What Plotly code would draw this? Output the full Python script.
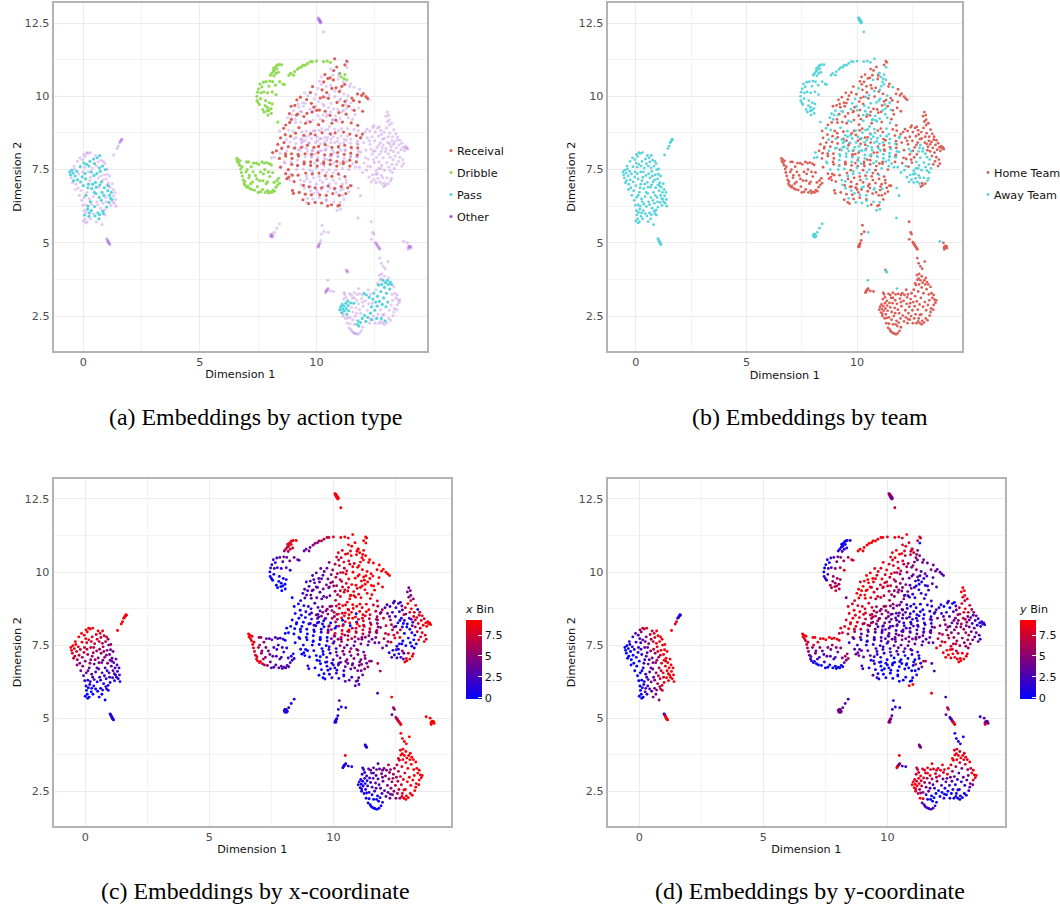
import plotly.graph_objects as go

R, D, P, O = "Receival", "Dribble", "Pass", "Other"
H, A = "Home Team", "Away Team"
ACTION_ORDER = [R, D, P, O]
ACTION_COLORS = {R: "#db5f57", D: "#91db57", P: "#57d3db", O: "#a157db"}
TEAM_ORDER = [H, A]
TEAM_COLORS = {H: "#db5f57", A: "#57d3db"}
X_TICKS = [0, 5, 10]
Y_TICKS = [2.5, 5, 7.5, 10, 12.5]
Y_TICK_TEXT = ["2.5", "5", "7.5", "10", "12.5"]
BIN_TICKS = [0, 2.5, 5, 7.5]
BIN_TICK_TEXT = ["0", "2.5", "5", "7.5"]

# rows: dimension 1, dimension 2, action, team, x bin, y bin
LEFT_BLOB = [
(-0.58,7.42,P,A,9,0),(-0.55,7.32,P,A,9,0),(-0.5,7.48,P,A,9,0),(-0.52,7.22,O,A,8,0),(-0.44,7.38,P,A,8,0),(-0.42,7.12,P,A,7,0),
(-0.38,7.52,O,A,9,1),(-0.35,7.28,P,A,8,0),(-0.32,7.0,O,A,6,0),(-0.28,7.44,P,A,8,1),(-0.26,7.78,O,A,9,2),(-0.25,7.15,P,A,7,0),
(-0.22,6.88,O,A,5,0),(-0.2,7.35,O,A,7,1),(-0.15,7.9,O,A,9,3),(-0.13,7.6,P,A,9,2),(-0.12,7.08,P,A,6,1),(-0.1,6.78,O,A,5,0),
(-0.05,7.25,P,A,7,1),(-0.03,7.42,O,A,8,2),(0.0,6.95,P,A,5,0),(0.02,7.72,P,A,9,3),(0.04,6.55,O,A,4,0),(0.06,7.58,O,A,8,2),
(0.08,7.95,O,A,9,5),(0.1,7.18,P,A,6,1),(0.1,6.3,O,A,2,0),(0.12,6.04,O,A,0,1),(0.05,5.95,P,A,0,0),(0.08,5.82,O,A,0,0),
(0.1,5.68,O,A,0,0),(0.16,5.72,O,A,0,0),(0.14,7.68,P,A,9,3),(0.16,6.72,O,A,4,1),(0.18,6.15,P,A,1,1),(0.2,8.05,O,A,9,7),
(0.22,7.42,O,A,7,3),(0.22,7.0,P,A,5,2),(0.24,5.9,P,A,0,2),(0.26,6.02,P,A,0,2),(0.28,7.78,P,A,8,5),(0.3,8.08,O,A,9,8),
(0.3,6.4,P,A,2,2),(0.32,7.24,O,A,6,3),(0.34,6.1,P,A,1,3),(0.36,6.85,P,A,4,3),(0.38,7.55,O,A,7,5),(0.4,7.0,P,A,5,3),
(0.42,6.0,O,A,0,3),(0.42,6.58,O,A,3,3),(0.44,7.86,P,A,8,7),(0.46,7.3,P,A,6,5),(0.48,6.24,P,A,1,4),(0.5,5.92,P,A,0,3),
(0.52,7.06,P,A,5,4),(0.54,6.68,P,A,3,4),(0.56,7.62,O,A,7,7),(0.58,6.4,O,A,2,4),(0.6,7.9,P,A,8,8),(0.62,6.02,P,A,0,4),
(0.64,7.22,O,A,6,6),(0.66,6.9,O,A,4,5),(0.68,6.55,P,A,3,5),(0.7,7.98,P,A,9,9),(0.7,5.96,P,A,1,5),(0.72,7.44,P,A,6,8),
(0.74,6.18,O,A,1,6),(0.76,7.82,O,A,7,9),(0.78,7.08,P,A,5,6),(0.8,5.62,O,A,0,5),(0.8,6.72,P,A,3,6),(0.82,7.62,P,A,6,9),
(0.84,6.35,O,A,2,7),(0.86,6.0,P,A,1,7),(0.88,7.32,O,A,5,9),(0.9,6.88,P,A,4,8),(0.92,6.12,O,A,1,8),(0.94,7.5,P,A,5,9),
(0.96,6.55,O,A,3,8),(0.98,7.18,O,A,4,9),(1.0,6.22,P,A,1,9),(1.02,7.34,O,A,4,9),(1.05,6.78,P,A,3,9),(1.08,7.05,O,A,3,9),
(1.1,6.38,P,A,2,9),(1.12,6.62,P,A,3,9),(1.15,6.9,O,A,3,9),(1.18,6.28,O,A,1,9),(1.2,6.72,P,A,3,9),(1.22,6.48,P,A,2,9),
(1.28,6.82,O,A,3,9),(1.3,6.6,O,A,2,9),(1.33,6.35,O,A,1,9),(1.36,6.72,O,A,2,9),(1.38,6.48,O,A,2,9),(1.4,6.25,O,A,1,9),
(-0.47,7.05,O,A,7,0),(-0.33,6.82,O,A,5,0),(-0.4,7.62,O,A,9,1),(-0.18,6.62,O,A,4,0),(-0.07,6.45,O,A,3,0),(-0.02,6.28,O,A,2,0),
(-0.04,7.84,O,A,9,3),(0.03,8.02,O,A,9,5),(0.14,8.08,O,A,9,7),(0.24,7.62,P,A,8,4),(0.07,7.36,P,A,7,2),(0.19,6.88,P,A,5,2),
(0.28,7.12,O,A,6,3),(0.11,6.62,P,A,4,1),(0.26,6.5,O,A,3,2),(0.03,6.1,O,A,1,0),(0.2,6.25,P,A,1,1),(-0.0,5.75,O,A,0,0),
(0.31,5.82,O,A,0,2),(0.36,6.32,O,A,2,3),(0.47,6.72,P,A,3,4),(0.34,7.42,P,A,7,4),(0.48,7.7,P,A,8,6),(0.52,7.98,O,A,9,8),
(0.58,7.36,P,A,6,7),(0.63,7.76,O,A,7,8),(0.69,7.56,P,A,6,8),(0.75,7.28,O,A,5,8),(0.55,6.9,P,A,4,5),(0.71,6.98,P,A,4,6),
(0.62,6.3,O,A,2,5),(0.77,6.45,P,A,2,7),(0.83,6.08,P,A,1,7),(0.93,5.95,O,A,1,8),(0.67,5.82,P,A,0,5),(0.56,5.72,O,A,0,4),
(0.86,7.78,O,A,7,9),(0.92,7.7,O,A,6,9),(1.03,7.52,O,A,5,9),(1.12,7.28,O,A,4,9),(1.24,7.02,O,A,3,9),(1.17,6.52,P,A,2,9),
(1.07,6.95,P,A,3,9),(1.26,6.4,O,A,1,9),(0.98,6.4,O,A,2,8),(0.88,6.62,P,A,2,7),(0.85,7.15,O,A,5,7),(1.0,6.98,O,A,4,8),
]
# rows: dimension 1, dimension 2, action, team, x bin, y bin
DRIBBLE_FAN = [
(6.58,7.88,D,H,9,9),(6.6,7.78,D,H,9,9),(6.64,7.84,D,H,9,9),(6.66,7.72,D,H,9,8),(6.7,7.65,D,H,9,8),(6.72,7.8,D,H,8,9),
(6.75,7.52,D,H,9,7),(6.78,7.4,D,H,8,6),(6.82,7.28,D,H,8,5),(6.86,7.15,D,H,8,4),(6.9,7.02,D,H,9,2),(6.94,6.96,D,H,9,1),
(6.98,7.42,D,H,7,6),(7.02,6.9,D,H,9,0),(7.06,6.94,D,H,8,1),(7.08,7.76,D,H,5,9),(7.1,7.22,D,H,6,5),(7.14,6.86,D,H,7,0),
(7.2,7.6,D,H,5,8),(7.22,6.82,D,H,6,0),(7.26,7.08,D,H,5,3),(7.3,7.72,D,H,4,9),(7.34,6.8,D,H,5,0),(7.38,7.3,D,H,4,4),
(7.42,7.72,D,H,3,9),(7.46,6.92,D,H,4,1),(7.52,7.68,D,H,3,8),(7.56,7.12,D,H,3,3),(7.6,6.74,D,H,3,0),(7.66,7.76,D,H,3,9),
(7.68,6.82,D,H,3,0),(7.72,7.35,D,H,2,4),(7.76,7.72,D,H,2,9),(7.8,6.72,D,H,3,0),(7.84,7.02,D,H,3,2),(7.86,7.74,D,H,2,9),
(7.9,6.78,D,H,3,0),(7.94,6.7,D,H,3,0),(7.98,7.7,D,H,1,9),(8.0,7.26,D,H,2,4),(8.02,6.74,D,H,3,0),(8.06,7.66,D,H,1,8),
(8.08,6.72,D,H,3,0),(8.12,7.4,D,H,1,5),(8.14,6.8,D,H,3,1),(8.18,7.06,D,H,2,4),(8.2,6.76,D,H,3,1),(8.26,6.9,D,H,2,4),
(8.3,7.12,D,H,1,6),(8.34,6.98,D,H,2,5),(8.38,7.2,D,H,1,6),(8.42,7.04,D,H,1,6),(7.12,7.3,D,H,5,4),(7.5,6.72,D,H,3,0),
(7.94,7.42,D,H,2,5),(6.8,7.6,D,H,8,7),(7.0,7.76,D,H,6,9),(7.6,7.42,D,H,3,5),(6.92,7.1,D,H,8,3),(7.18,7.02,D,H,6,2),
(7.03,7.5,D,H,6,7),(7.28,7.42,D,H,4,5),(7.44,7.18,D,H,4,3),(7.7,7.12,D,H,3,3),(7.78,7.5,D,H,2,6),(7.9,7.08,D,H,2,3),
]
# rows: dimension 1, dimension 2, action, team, x bin, y bin
DRIBBLE_ARC = [
(7.45,9.85,D,A,0,1),(7.44,10.0,D,A,1,0),(7.47,10.14,D,A,2,0),(7.5,9.78,D,A,0,2),(7.52,10.25,D,A,2,1),(7.55,9.72,D,A,0,2),
(7.6,9.92,D,A,0,3),(7.62,10.12,D,A,2,2),(7.66,10.32,D,A,2,1),(7.7,9.55,D,A,0,6),(7.72,10.48,D,A,2,2),(7.75,9.46,D,A,0,6),
(7.8,9.68,D,A,0,5),(7.82,9.85,D,A,1,5),(7.84,10.5,D,A,3,3),(7.88,9.5,D,A,0,7),(7.9,9.62,D,A,0,6),(7.92,9.36,D,A,0,8),
(7.96,10.35,D,A,3,4),(7.98,9.78,D,A,1,6),(8.0,10.52,D,A,4,3),(8.02,10.72,D,A,6,1),(8.05,9.58,D,A,0,5),(8.08,10.78,D,A,7,1),
(8.1,9.74,D,A,1,5),(8.12,10.5,D,A,4,5),(8.14,10.85,D,A,7,1),(8.16,10.95,D,A,8,0),(8.18,10.7,D,A,6,2),(8.2,10.88,D,A,8,0),
(8.22,10.98,D,A,8,0),(8.24,10.38,D,A,4,6),(8.26,10.78,D,A,8,1),(8.28,11.04,D,A,9,1),(8.3,10.94,D,A,8,0),(8.32,11.06,D,A,9,0),
(8.36,10.82,D,A,7,2),(8.38,11.08,D,A,9,0),(8.42,10.5,D,A,4,6),(8.5,11.08,D,A,9,1),(8.56,10.42,D,A,3,7),(8.62,10.4,D,A,3,8),
(8.82,10.72,D,A,3,9),(8.9,10.78,D,A,3,9),(9.02,10.72,D,A,4,9),(9.06,10.84,D,A,4,9),(9.18,10.92,D,A,5,9),(9.26,10.98,D,A,5,9),
(9.36,11.0,D,A,5,9),(9.42,11.06,D,A,6,9),(9.52,11.06,D,A,6,9),(9.62,11.12,D,A,7,8),(9.74,11.18,D,A,7,9),(9.82,11.18,D,A,7,9),
(10.0,11.2,D,A,8,8),(10.3,11.18,D,A,9,9),(10.46,11.2,D,A,9,9),(10.6,11.16,D,A,9,8),(11.0,10.78,D,A,9,7),(11.06,10.66,D,A,9,7),
(11.18,10.6,D,A,9,6),(11.22,10.74,D,A,9,5),(11.3,10.56,D,A,9,4),(8.26,10.06,D,A,1,9),(8.1,10.15,D,A,3,6),(7.74,10.15,D,A,2,3),
(7.9,10.12,D,A,2,5),(7.58,10.42,D,A,2,1),(7.96,9.52,D,A,0,7),(8.06,9.42,D,A,0,6),(8.34,9.12,D,A,0,4),
]
# rows: dimension 1, dimension 2, action, team, x bin, y bin
MAIN_TOP = [
(10.78,11.28,R,A,9,9),(11.3,11.2,R,H,9,8),(11.34,11.16,O,H,9,7),(11.22,11.07,R,H,9,8),(11.31,10.99,O,A,9,0),(10.61,10.93,O,H,9,8),
(10.58,10.63,R,H,9,9),(10.74,10.88,R,H,9,9),(10.69,10.72,O,H,8,8),(10.87,11.0,R,H,9,8),(10.99,10.79,O,H,9,8),(10.36,10.74,R,H,8,9),
(10.49,10.61,R,H,8,9),(10.62,10.38,O,H,8,8),(10.72,10.56,R,A,9,7),(10.84,10.29,R,H,8,6),(10.93,10.59,O,H,9,7),(11.09,10.34,R,A,9,4),
(11.17,10.08,O,H,9,6),(11.21,10.41,R,A,9,4),(11.36,10.02,O,A,9,3),(10.21,10.41,O,H,6,8),(10.44,10.13,R,H,7,9),(10.39,9.98,O,A,7,7),
(10.66,10.27,R,H,8,7),(10.79,9.99,O,H,9,6),(10.98,10.16,R,H,9,5),(11.04,9.91,O,A,9,4),(11.22,9.83,R,H,9,4),(11.31,9.87,O,H,9,2),
(11.42,10.33,O,H,9,4),(11.52,9.94,R,H,9,4),(11.61,10.31,O,A,9,4),(11.76,10.08,R,H,9,5),(11.85,10.24,O,H,9,4),(11.94,10.03,R,H,9,4),
(12.01,10.09,R,H,9,3),(12.12,9.99,R,H,9,3),(12.19,9.93,R,H,9,3),(12.26,9.88,O,H,9,3),(9.83,10.33,R,H,5,9),(9.97,10.07,O,H,5,9),
(9.74,10.13,R,H,4,8),(10.07,10.27,O,A,6,8),(10.16,9.94,R,H,6,9),(10.24,10.22,R,H,7,8),(9.58,9.89,R,H,3,8),(9.49,10.12,O,H,3,9),
(9.78,9.76,R,A,4,9),(9.41,9.78,O,H,3,9),(9.31,9.97,R,H,3,9),(9.24,9.63,O,H,3,9),(9.16,9.88,R,H,2,9),(9.07,9.69,R,H,2,9),
(9.02,9.51,O,A,2,9),(8.91,9.66,R,H,2,8),(8.96,9.36,O,A,2,9),(8.84,9.41,R,A,3,9),(9.19,9.39,R,H,3,9),(9.31,9.49,O,A,3,9),
(9.44,9.66,O,H,3,8),(9.59,9.42,R,H,4,7),(9.72,9.56,O,A,4,7),(9.89,9.63,R,H,5,8),(9.91,9.91,O,A,5,7),(10.13,9.53,R,H,6,8),
(10.27,9.74,O,H,7,7),(10.29,9.98,R,H,8,6),(10.52,9.61,O,A,8,5),(10.51,9.93,R,H,9,5),(10.74,9.57,O,H,9,4),(10.88,9.79,R,A,9,4),
(10.91,9.55,O,H,9,3),(11.13,9.69,R,H,9,2),(11.16,9.52,O,A,9,1),(11.38,9.66,R,H,9,1),(11.53,9.54,O,A,9,1),(11.59,9.86,R,H,9,2),
(11.81,9.6,O,H,9,3),(11.84,9.81,R,H,9,3),(11.98,9.49,R,H,9,3),(11.66,9.38,O,H,9,2),(11.62,9.52,R,H,9,2),(11.36,9.27,O,A,9,1),
(11.27,9.39,R,A,9,1),(11.02,9.24,O,A,9,2),(10.96,9.44,R,H,8,4),(10.71,9.21,O,A,9,3),(10.58,9.35,R,H,8,4),(10.43,9.31,O,H,8,6),
(10.37,9.49,R,A,7,6),(10.17,9.22,O,H,6,6),(10.01,9.52,R,A,5,7),(9.86,9.19,O,H,4,7),(9.81,9.46,R,H,3,8),(9.61,9.16,O,A,3,8),
(9.46,9.31,R,H,3,8),(9.33,9.12,O,H,3,9),(9.14,9.36,R,A,3,9),(9.11,9.1,O,H,3,9),(8.92,9.21,R,A,3,9),(8.77,9.27,O,A,2,9),
(8.68,9.02,R,H,2,8),(8.59,8.91,R,A,1,7),(8.81,8.85,O,A,1,8),(8.85,9.11,R,H,2,9),(8.99,8.82,O,H,2,8),(9.25,8.93,R,A,2,8),
(9.38,8.79,O,H,3,8),(9.53,9.08,R,H,3,7),(9.56,8.81,O,A,4,6),(9.73,9.13,R,A,4,7),(9.93,8.83,O,A,5,6),(10.09,9.03,R,H,6,6),
(10.12,8.84,O,H,7,5),(10.28,9.16,R,A,8,5),(10.49,8.87,O,A,8,4),(10.66,9.08,R,H,9,4),(10.78,8.88,O,A,9,2),(10.83,9.19,R,A,9,2),
(11.07,8.9,O,H,9,1),(11.11,9.12,R,H,9,1),(11.33,8.9,O,A,9,0),(11.49,9.09,R,A,9,1),(11.61,8.87,O,H,8,1),(11.77,9.01,R,H,8,2),
(11.79,8.83,O,H,7,2),(11.97,8.71,R,H,6,3),(11.89,8.58,R,A,5,2),(10.13,10.51,O,H,7,8),(10.31,10.49,R,H,8,9),(10.2,10.66,O,H,8,9),
(10.95,10.71,O,H,9,8),(11.15,10.49,O,A,9,5),(11.46,10.42,O,H,9,4),(10.1,9.82,O,H,6,7),(10.33,9.68,O,A,7,6),(10.61,9.47,O,H,8,5),
(10.82,9.33,O,A,9,3),(11.09,9.47,O,H,9,2),(11.28,9.58,O,A,9,1),(9.84,9.49,O,H,5,8),(9.97,9.66,O,A,5,7),(9.52,9.77,O,H,3,9),
(9.09,9.21,O,H,3,9),(9.36,9.47,O,A,3,8),(10.46,9.39,O,A,8,5),(10.68,9.19,O,A,9,3),(10.89,9.14,O,A,9,2),(11.55,9.22,O,H,9,2),
(9.63,10.02,O,H,3,9),(9.21,9.74,O,H,3,9),(10.42,10.34,O,H,8,8),(10.78,10.18,O,A,9,6),(10.54,10.04,O,A,8,6),(11.03,10.22,O,A,9,5),
(11.47,9.78,O,A,9,2),(11.25,9.72,O,A,9,1),(10.99,9.86,O,A,9,3),(10.62,9.76,O,A,9,5),(10.07,9.34,O,H,6,6),(10.28,9.36,O,A,7,5),
]
# rows: dimension 1, dimension 2, action, team, x bin, y bin
MAIN_MID = [
(8.42,8.82,O,H,0,8),(8.46,8.58,R,H,1,8),(8.66,8.69,R,H,1,9),(8.71,8.52,O,A,1,8),(8.89,8.64,R,H,1,9),(9.04,8.55,O,A,2,8),
(9.1,8.74,R,H,2,8),(9.31,8.53,O,A,3,7),(9.46,8.67,R,A,3,7),(9.52,8.49,O,H,4,7),(9.75,8.73,R,H,5,5),(9.78,8.56,O,A,5,5),
(9.94,8.68,R,H,5,6),(10.14,8.55,O,H,7,4),(10.24,8.76,R,A,8,4),(10.36,8.59,O,H,8,3),(10.59,8.72,R,H,9,4),(10.63,8.54,O,A,9,3),
(10.8,8.75,R,A,8,2),(10.92,8.57,O,A,0,1),(11.16,8.78,R,H,9,1),(11.19,8.54,O,H,9,1),(11.43,8.71,R,A,9,0),(11.48,8.54,O,A,8,1),
(11.71,8.66,R,H,7,2),(11.76,8.47,O,H,6,1),(8.34,8.36,R,H,0,8),(8.52,8.27,O,H,0,9),(8.61,8.42,R,H,0,9),(8.79,8.28,R,H,0,9),
(8.87,8.44,O,H,0,8),(9.07,8.24,R,A,1,7),(9.12,8.39,O,H,2,7),(9.35,8.26,R,A,2,7),(9.41,8.46,O,A,3,6),(9.61,8.33,R,H,0,6),
(9.69,8.41,O,A,4,4),(9.89,8.26,R,A,0,5),(10.04,8.48,O,H,5,4),(10.09,8.29,R,A,6,3),(10.33,8.43,O,A,8,3),(10.37,8.35,R,H,0,3),
(10.61,8.42,O,H,8,3),(10.66,8.26,R,A,8,2),(10.89,8.46,O,A,9,2),(10.94,8.28,R,H,0,1),(11.17,8.42,O,A,8,1),(11.21,8.33,R,H,8,1),
(11.45,8.4,O,A,7,1),(11.49,8.26,R,H,6,1),(11.73,8.38,O,A,5,2),(11.77,8.24,R,H,5,2),(8.28,8.14,R,H,0,9),(8.44,8.06,O,H,0,9),
(8.51,8.22,R,H,0,9),(8.67,8.04,R,H,0,8),(8.73,8.14,O,A,0,8),(8.93,8.04,R,H,1,6),(9.01,8.22,O,A,0,6),(9.21,8.02,R,A,1,5),
(9.29,8.16,O,A,0,5),(9.51,8.04,R,A,1,4),(9.56,8.22,O,A,1,3),(9.79,8.02,R,H,0,3),(9.84,8.16,O,A,7,3),(10.07,8.08,R,H,0,3),
(10.12,8.14,O,A,0,3),(10.35,8.0,R,A,8,2),(10.4,8.2,O,H,0,3),(10.63,8.02,R,A,9,3),(10.68,8.16,O,A,0,2),(10.91,8.08,R,H,8,3),
(10.96,8.22,O,A,9,2),(11.19,8.02,R,A,8,3),(11.24,8.14,O,H,7,2),(11.47,8.06,R,A,8,2),(11.52,8.2,O,A,7,1),(11.75,8.0,R,H,6,1),
(11.8,8.12,O,A,5,3),(8.19,7.92,O,A,0,7),(8.06,7.9,O,A,0,7),(8.12,8.08,R,A,0,8),(8.41,7.88,R,H,0,7),(8.61,7.76,O,A,0,5),
(8.68,7.96,R,H,0,6),(8.91,7.76,O,H,1,4),(8.95,7.88,R,H,0,3),(9.19,7.82,O,A,1,3),(9.23,7.96,R,A,0,2),(9.47,7.76,R,H,0,2),
(9.51,7.94,O,A,1,2),(9.75,7.76,R,A,0,2),(9.79,7.96,O,H,7,3),(10.03,7.82,R,H,2,3),(10.07,7.9,O,A,8,3),(10.31,7.76,R,H,7,4),
(10.35,7.88,O,A,9,3),(10.59,7.82,R,H,6,5),(10.63,7.96,O,H,9,3),(10.87,7.78,R,A,7,4),(10.91,7.96,O,A,8,3),(11.15,7.76,R,H,5,4),
(11.19,7.88,O,A,7,3),(11.43,7.82,R,A,5,4),(11.47,7.96,O,A,6,3),(11.71,7.76,R,H,4,3),(11.75,7.92,O,A,5,3),(8.46,7.58,R,H,0,2),
(8.65,7.72,O,A,1,3),(8.79,7.5,R,A,1,2),(8.94,7.68,R,H,0,0),(9.15,7.5,O,A,0,1),(9.19,7.64,R,H,0,1),(9.43,7.52,O,A,0,2),
(9.47,7.7,R,H,0,2),(9.71,7.48,O,H,0,2),(9.75,7.64,R,H,2,3),(9.99,7.56,O,A,3,2),(10.03,7.62,R,H,2,3),(10.27,7.48,O,H,5,3),
(10.31,7.7,R,H,4,4),(10.55,7.5,O,A,3,4),(10.59,7.68,R,H,7,5),(10.83,7.48,O,H,4,4),(10.87,7.62,R,H,4,4),(11.11,7.54,O,A,4,4),
(11.15,7.7,R,H,4,4),(11.39,7.5,O,H,3,3),(11.43,7.62,R,A,4,3),(11.67,7.58,O,A,3,3),(9.22,8.18,O,H,2,6),(9.41,8.28,O,A,0,5),
(9.66,8.4,O,H,3,5),(9.95,8.42,O,A,7,4),(10.2,8.56,O,A,8,4),(10.48,8.6,O,H,9,4),(10.78,8.42,O,A,9,3),(11.06,8.65,O,A,9,1),
(9.62,8.13,O,A,0,2),(9.92,8.03,O,H,6,3),(10.22,8.15,O,A,7,3),(10.48,8.3,O,A,8,3),(10.76,8.08,O,H,6,2),(11.05,8.15,O,A,9,3),
(9.18,7.62,O,A,0,1),(9.47,7.68,O,H,1,2),(9.78,7.92,O,A,5,3),(10.05,7.8,O,A,6,3),(10.33,7.62,O,H,6,4),(10.58,7.97,O,A,7,3),
(10.92,7.93,O,A,7,3),(11.22,8.18,O,H,7,2),(11.46,7.93,O,A,6,3),(9.38,8.55,O,H,3,7),(9.12,8.6,O,H,2,8),(9.7,8.67,O,A,5,5),
(10.38,8.85,O,A,9,4),(10.62,8.7,O,A,8,3),(10.94,8.83,O,H,9,1),(11.33,8.64,O,A,9,1),(9.81,8.14,O,H,5,3),(10.38,8.16,O,A,8,3),
(10.16,8.38,O,H,6,4),(10.44,8.5,O,A,8,3),(10.73,8.62,O,A,9,3),(11.01,8.38,O,A,8,2),(11.28,8.5,O,H,8,1),(9.86,8.82,O,H,5,6),
(10.03,8.62,O,A,6,5),(10.23,8.9,O,H,8,5),(10.56,8.97,O,A,9,4),(9.57,8.62,O,A,4,6),(9.36,8.41,O,A,3,6),(9.92,7.72,O,H,4,3),
(10.19,7.7,O,A,5,3),(10.46,7.84,O,H,6,4),(10.74,7.72,O,A,6,4),(11.01,7.71,O,H,5,4),(11.29,7.77,O,A,5,3),(11.56,7.7,O,A,4,3),
]
# rows: dimension 1, dimension 2, action, team, x bin, y bin
MAIN_LOW = [
(8.68,7.36,R,H,1,3),(8.81,7.24,R,H,0,3),(8.85,7.14,O,H,0,4),(8.96,7.31,R,H,0,3),(9.04,7.09,R,H,0,3),(9.21,7.31,R,H,0,3),
(9.31,7.14,O,A,0,3),(9.54,7.38,R,H,0,2),(9.59,7.18,O,H,1,2),(9.82,7.35,R,A,2,2),(9.87,7.22,O,H,1,1),(10.11,7.38,R,A,2,2),
(10.15,7.14,O,H,3,2),(10.38,7.29,R,H,5,3),(10.43,7.18,O,A,4,2),(10.66,7.27,R,H,6,3),(10.71,7.14,O,H,3,1),(10.94,7.35,R,H,6,3),
(10.99,7.18,O,H,5,2),(11.22,7.26,R,H,3,1),(11.27,7.14,O,H,5,1),(9.44,6.96,R,H,0,1),(9.47,7.1,O,A,0,1),(9.68,6.91,R,H,1,1),
(9.73,7.08,O,H,2,1),(9.94,6.88,R,H,1,1),(9.99,7.0,O,H,3,0),(10.22,6.88,R,A,2,0),(10.27,7.06,O,H,4,0),(10.5,6.94,R,H,4,1),
(10.55,7.0,O,H,5,0),(10.78,6.86,R,A,3,0),(10.83,7.04,O,H,5,0),(11.06,6.92,R,H,4,0),(11.11,7.0,O,H,4,0),(11.34,6.88,R,H,4,1),
(9.26,6.72,R,H,0,1),(9.48,6.86,O,A,0,1),(9.52,6.66,R,H,1,0),(9.74,6.78,O,A,1,0),(9.78,6.64,R,H,0,0),(10.0,6.82,O,H,2,0),
(10.14,6.64,R,A,1,0),(10.2,6.82,O,H,2,0),(10.42,6.62,R,A,2,0),(10.48,6.76,O,H,4,0),(10.7,6.68,R,H,3,0),(10.76,6.82,O,A,4,0),
(10.98,6.62,R,H,4,0),(11.04,6.8,O,H,4,0),(11.26,6.68,R,H,5,0),(9.42,6.47,R,H,0,3),(9.58,6.38,O,H,0,2),(9.66,6.34,R,H,0,1),
(9.84,6.5,O,H,1,0),(9.94,6.38,R,A,2,0),(10.12,6.54,O,H,2,0),(10.22,6.36,R,A,1,0),(10.42,6.48,O,H,2,0),(10.48,6.26,R,A,3,0),
(10.64,6.3,R,H,3,0),(10.74,6.4,O,A,2,0),(10.92,6.26,R,H,3,0),(11.02,6.38,O,A,3,0),(10.98,6.28,R,H,3,0),(11.18,6.48,O,H,4,1),
(10.88,6.11,O,A,3,9),(11.03,6.15,O,A,3,9),(11.53,6.95,O,H,5,6),(11.39,6.75,O,H,6,5),(11.89,6.61,O,A,7,1),(11.79,6.87,O,A,7,3),
(11.46,6.95,R,H,5,7),(11.14,6.84,O,A,5,6),(8.97,6.79,R,H,2,2),(9.01,6.69,R,H,2,2),(8.73,7.19,R,H,0,4),(8.88,7.35,O,H,0,3),
(9.58,7.28,O,A,0,2),(9.83,7.44,O,A,2,2),(10.12,7.26,O,H,3,2),(10.44,7.41,O,A,4,3),(10.71,7.38,O,H,5,3),(10.99,7.32,O,A,5,3),
(9.74,6.92,O,H,1,0),(10.29,6.91,O,A,3,0),(10.58,6.87,O,H,4,0),(11.28,7.04,O,H,5,1),(9.88,6.69,O,A,1,0),(10.42,6.44,O,A,2,0),
(9.34,6.98,O,A,0,1),(10.06,6.72,O,H,1,0),(10.86,6.72,O,H,4,0),(11.12,6.62,O,H,4,0),(9.62,6.52,O,A,0,1),
]
# rows: dimension 1, dimension 2, action, team, x bin, y bin
RIGHT_BLOB = [
(11.72,7.95,O,H,6,4),(11.84,7.58,O,A,4,3),(11.9,8.1,O,A,5,5),(11.98,7.4,O,A,4,9),(12.02,8.42,O,H,7,5),(12.04,7.72,O,H,7,7),
(12.08,8.78,O,H,3,1),(12.12,8.16,O,H,7,6),(12.14,7.48,O,A,3,9),(12.18,8.58,O,H,4,2),(12.22,7.86,O,H,8,7),(12.25,7.24,O,A,1,9),
(12.28,8.82,O,H,2,0),(12.3,8.36,O,H,7,5),(12.32,7.6,O,H,8,8),(12.35,7.08,O,A,2,9),(12.38,8.62,O,H,3,1),(12.4,7.32,O,A,1,9),
(12.42,8.94,O,H,2,1),(12.44,8.12,O,A,6,4),(12.46,7.16,O,A,1,9),(12.48,7.74,O,H,8,7),(12.5,8.48,O,H,2,3),(12.52,8.78,O,H,2,0),
(12.54,7.34,O,A,1,9),(12.56,7.06,O,A,2,8),(12.58,7.92,O,H,7,5),(12.6,8.26,O,H,1,3),(12.62,8.92,O,H,2,1),(12.64,7.2,O,A,2,9),
(12.66,8.64,O,H,2,3),(12.68,7.76,O,A,9,6),(12.7,8.02,O,H,6,5),(12.72,7.08,O,A,2,9),(12.74,8.42,O,H,1,4),(12.76,8.84,O,H,3,2),
(12.78,7.3,O,A,6,6),(12.8,7.64,O,A,0,6),(12.82,8.24,O,A,0,4),(12.84,8.54,O,H,7,6),(12.86,7.9,O,A,0,5),(12.88,6.92,O,H,9,9),
(12.9,8.78,O,H,8,7),(12.92,7.48,O,A,1,6),(12.94,7.04,O,H,9,9),(12.96,8.12,O,A,1,5),(12.98,9.32,O,H,4,9),(13.0,8.92,O,H,9,8),
(13.02,7.74,O,A,1,5),(13.04,9.46,O,H,4,9),(13.06,8.42,O,H,2,7),(13.08,7.02,O,H,9,9),(13.1,7.58,O,A,0,5),(13.12,9.2,O,H,4,9),
(13.14,8.74,O,H,9,9),(13.16,7.92,O,A,1,6),(13.18,7.12,O,A,9,9),(13.2,8.28,O,H,2,6),(13.22,9.08,O,H,5,8),(13.24,7.68,O,A,0,5),
(13.26,8.62,O,H,8,8),(13.28,7.84,O,A,1,6),(13.3,8.12,O,H,7,4),(13.32,8.86,O,H,9,7),(13.34,7.54,O,A,0,6),(13.36,8.44,O,H,7,3),
(13.38,7.96,O,H,7,4),(13.4,8.72,O,H,1,6),(13.42,8.24,O,H,8,2),(13.46,8.52,O,H,8,3),(13.5,8.08,O,H,7,4),(13.54,8.34,O,H,8,2),
(13.58,7.92,O,H,8,4),(13.62,8.18,O,H,9,1),(13.66,8.4,O,H,8,2),(13.7,7.84,O,H,8,3),(13.72,8.26,O,H,9,1),(13.76,8.14,O,H,9,2),
(13.8,8.3,O,H,9,1),(13.84,8.22,O,H,9,2),(13.88,8.26,O,H,9,2),(13.92,8.2,O,H,9,1),(13.74,7.7,O,H,8,2),(13.66,7.62,O,H,9,3),
(12.34,8.2,O,A,6,5),(12.76,7.54,O,A,0,7),(13.02,7.22,O,A,9,9),(13.1,9.36,O,H,5,9),(12.46,9.0,O,H,2,2),(12.7,8.96,O,H,1,0),
(11.78,8.36,O,H,6,3),(11.92,8.62,O,A,5,2),(12.16,8.88,O,H,2,1),(12.26,8.48,O,H,3,3),(12.38,8.02,O,H,7,6),(12.52,8.14,O,H,1,4),
(12.44,7.84,O,H,8,7),(12.56,7.46,O,A,1,8),(12.2,7.62,O,A,4,7),(12.1,7.9,O,H,7,6),(12.68,8.34,O,H,1,4),(12.78,8.7,O,H,2,3),
(12.86,8.34,O,A,1,5),(12.92,8.56,O,H,3,6),(12.98,8.22,O,A,1,6),(13.08,8.62,O,H,8,8),(13.14,8.38,O,H,3,6),(13.24,8.48,O,H,8,5),
(13.3,8.36,O,H,8,4),(13.18,8.16,O,H,3,5),(13.08,8.04,O,A,1,6),(12.78,8.12,O,A,1,5),(12.66,7.54,O,A,1,7),(12.62,7.36,O,A,1,8),
(12.84,7.22,O,A,2,9),(12.82,7.02,O,A,2,8),(13.16,7.46,O,A,1,6),(13.26,7.4,O,A,0,5),(12.96,6.96,O,H,9,9),(13.22,7.2,O,A,8,8),
(13.44,7.68,O,H,8,4),(13.52,7.78,O,H,8,3),(13.48,8.62,O,H,7,5),(13.58,8.5,O,H,8,3),(13.12,9.02,O,H,8,7),(13.04,9.14,O,H,5,8),
]
# rows: dimension 1, dimension 2, action, team, x bin, y bin
LOWER_BLOB = [
(11.0,2.72,P,H,1,9),(11.04,2.82,P,H,1,8),(11.08,2.62,P,H,1,9),(11.1,2.9,P,H,1,8),(11.12,2.74,P,H,0,9),(11.14,2.58,O,H,1,8),
(11.16,3.08,O,H,1,7),(11.18,2.84,P,H,0,8),(11.2,2.68,P,H,1,9),(11.22,3.24,O,H,2,7),(11.24,2.42,O,H,0,7),(11.26,2.94,P,H,1,9),
(11.28,2.76,P,H,1,8),(11.3,2.56,P,H,1,6),(11.32,2.26,O,H,1,9),(11.34,3.02,P,H,2,9),(11.36,2.86,P,H,1,7),(11.38,2.68,P,H,2,7),
(11.4,2.1,O,H,0,3),(11.42,3.26,O,H,3,8),(11.44,2.46,O,H,1,5),(11.46,2.95,P,H,2,8),(11.48,2.04,O,H,0,2),(11.5,2.8,O,H,2,6),
(11.52,1.98,O,H,0,2),(11.54,3.12,O,H,3,8),(11.56,2.64,O,H,3,4),(11.58,1.94,O,H,0,3),(11.6,2.94,P,H,3,6),(11.62,3.3,O,H,3,8),
(11.64,1.92,O,H,0,2),(11.66,2.5,O,H,2,4),(11.68,1.9,O,H,0,2),(11.7,2.78,O,H,3,5),(11.72,3.04,O,H,3,9),(11.74,2.22,P,H,0,0),
(11.76,1.88,O,H,0,2),(11.78,2.34,P,H,0,0),(11.8,2.92,O,H,3,6),(11.82,2.16,P,H,0,0),(11.84,1.92,O,H,1,3),(11.86,3.26,O,H,3,8),
(11.88,2.28,P,H,1,0),(11.9,2.6,O,H,3,2),(11.92,2.0,O,H,0,2),(11.94,3.1,O,H,4,7),(11.96,2.42,P,H,2,0),(11.98,2.12,O,H,1,0),
(12.0,2.84,O,H,4,5),(12.04,3.28,P,H,4,8),(12.06,2.52,P,H,3,0),(12.1,3.02,O,H,4,8),(12.12,2.32,P,H,3,1),(12.14,3.22,P,H,4,9),
(12.18,2.7,O,H,4,3),(12.2,2.46,P,H,3,0),(12.24,2.92,O,H,5,4),(12.26,3.14,P,H,5,7),(12.28,2.26,O,H,4,2),(12.32,2.6,P,H,5,1),
(12.36,2.82,P,H,6,3),(12.38,2.38,P,H,4,0),(12.42,3.08,P,H,6,9),(12.44,2.5,O,H,5,1),(12.46,3.28,P,H,6,9),(12.5,2.7,P,H,6,2),
(12.52,2.26,O,H,5,1),(12.54,2.98,P,H,6,4),(12.56,3.4,O,H,7,9),(12.58,2.42,P,H,6,0),(12.6,2.84,P,H,7,3),(12.62,3.18,P,H,7,5),
(12.64,2.56,O,H,7,1),(12.66,3.56,P,H,8,9),(12.68,2.26,O,H,7,1),(12.7,3.0,P,H,8,3),(12.72,3.74,O,H,9,8),(12.74,2.72,O,H,7,1),
(12.76,3.34,P,H,8,6),(12.78,2.42,P,H,8,0),(12.8,3.58,P,H,9,9),(12.82,2.9,P,H,8,2),(12.84,2.26,O,H,8,1),(12.86,3.72,P,H,9,9),
(12.88,3.12,P,H,8,3),(12.9,2.56,O,H,9,1),(12.92,3.48,P,H,9,7),(12.94,2.34,P,H,9,0),(12.96,3.64,P,H,9,9),(12.98,2.82,P,H,9,2),
(13.0,3.28,P,H,9,4),(13.02,2.28,O,H,9,0),(13.04,3.72,P,H,9,9),(13.06,2.98,P,H,9,3),(13.08,3.58,P,H,9,8),(13.1,2.42,O,H,9,0),
(13.12,2.7,O,H,9,1),(13.14,3.42,P,H,9,7),(13.16,3.66,P,H,9,9),(13.18,2.36,O,H,9,1),(13.22,3.58,P,H,9,8),(13.26,3.04,O,H,9,5),
(13.28,2.52,O,H,9,2),(13.32,3.5,O,H,9,9),(13.34,2.76,O,H,9,4),(13.4,3.12,O,H,9,8),(13.46,2.88,O,H,9,7),(13.5,3.06,O,H,9,9),
(13.54,2.96,O,H,9,9),(13.58,3.04,O,H,9,9),(12.7,3.9,O,H,9,8),(12.8,3.94,O,H,9,8),(12.92,3.86,O,H,9,7),(12.86,4.2,O,H,9,1),
(12.72,4.48,O,H,9,0),(12.78,4.3,O,H,9,0),(13.06,4.36,O,H,9,0),(12.94,4.12,O,H,9,1),
(11.18,3.3,O,H,2,7),(11.26,3.14,O,H,2,8),(11.5,3.22,O,H,3,8),(11.62,3.12,O,H,3,9),(11.74,3.24,O,H,4,8),(11.98,3.22,O,H,4,8),
(11.14,2.5,O,H,0,8),(11.34,2.44,O,H,1,5),(11.56,2.38,O,H,1,2),(11.62,2.22,O,H,0,0),(11.44,2.24,O,H,0,8),(11.72,2.6,O,H,3,2),
(11.84,2.72,O,H,3,3),(11.98,2.98,O,H,4,6),(12.3,2.4,O,H,4,0),(12.4,2.94,O,H,6,4),(12.3,3.24,O,H,6,8),(12.22,3.4,O,H,7,9),
(13.1,3.8,O,H,9,8),(12.78,3.78,O,H,9,9),(12.62,3.62,O,H,8,9),(12.84,2.54,O,H,8,1),(13.2,2.88,O,H,9,3),(13.32,2.64,O,H,9,3),
(13.44,2.72,O,H,9,5),(13.36,3.28,O,H,9,7),(13.46,3.22,O,H,9,9),(13.24,3.24,O,H,9,5),(12.76,2.32,O,H,8,1),(12.92,2.22,O,H,9,0),
]
# rows: dimension 1, dimension 2, action, team, x bin, y bin
SMALL_GROUPS = [
(10.06,12.68,O,A,9,6),(10.08,12.64,O,A,9,7),(10.1,12.66,O,A,9,5),(10.1,12.6,O,A,9,6),(10.12,12.62,O,A,9,6),(10.13,12.58,O,A,9,5),(10.14,12.55,O,A,9,4),
(10.16,12.58,O,A,9,3),(10.16,12.52,O,A,9,4),(10.18,12.5,O,A,9,4),(10.18,12.56,O,A,9,3),(10.2,12.52,O,A,9,5),(10.3,12.2,O,A,9,7),
(1.0,5.14,O,A,1,0),(1.02,5.12,O,A,1,0),(1.04,5.08,O,A,1,8),(1.06,5.05,O,A,1,8),(1.07,5.04,O,A,1,9),(1.09,5.0,O,A,1,9),(1.1,4.98,O,A,1,9),(1.12,4.96,O,A,1,9),(1.14,4.94,O,A,1,9),
(1.3,8.0,O,A,9,9),(1.45,8.22,O,A,9,8),(1.5,8.3,O,A,9,8),(1.55,8.42,O,A,9,2),(1.58,8.44,O,A,9,2),(1.6,8.48,O,A,9,1),(1.62,8.5,O,A,9,1),(1.64,8.54,O,A,9,1),(1.66,8.52,O,A,9,1),
(8.02,5.26,O,A,1,4),(8.04,5.22,O,A,1,4),(8.05,5.3,O,A,1,5),(8.06,5.2,O,A,1,5),(8.08,5.25,O,A,1,4),(8.1,5.3,O,A,1,4),(8.12,5.2,O,A,1,4),(8.14,5.24,O,A,1,4),(8.2,5.36,O,A,1,3),(8.3,5.5,O,A,1,3),(8.42,5.65,O,A,1,2),
(10.06,4.86,O,H,1,4),(10.08,4.9,O,H,1,4),(10.1,4.92,O,H,1,5),(10.1,4.86,O,H,1,5),(10.12,4.96,O,H,1,5),(10.14,4.98,O,H,1,5),(10.18,5.08,O,H,1,3),(10.2,5.3,O,H,1,1),(10.24,5.6,O,H,3,1),
(10.32,5.38,O,H,1,2),(10.5,5.36,O,A,2,1),
(11.78,5.85,O,A,3,9),(12.35,5.72,O,H,9,2),(12.42,5.36,O,H,5,7),(12.46,5.3,O,H,6,7),(12.36,5.12,O,H,3,3),
(12.52,5.02,O,H,6,1),(12.55,4.98,O,H,6,2),(12.58,4.96,O,H,7,2),(12.6,4.92,O,H,7,4),(12.62,4.9,O,H,7,5),(12.65,4.86,O,H,8,7),(12.68,4.84,O,H,8,8),(12.7,4.8,O,H,9,9),(12.72,4.78,O,H,9,9),
(13.74,5.05,O,A,9,0),(13.9,5.0,O,H,9,3),(13.93,4.84,O,H,9,5),(13.96,4.88,O,H,9,5),(13.98,4.86,O,H,9,5),(14.02,4.84,O,H,9,4),(14.06,4.82,O,H,9,4),(13.94,4.78,O,H,9,8),(14.0,4.9,O,H,9,4),(14.04,4.88,O,H,9,4),
(10.48,3.72,O,A,9,9),(10.38,3.3,O,H,1,9),(10.4,3.33,O,H,1,9),(10.42,3.36,O,H,1,8),(10.44,3.38,O,H,1,7),(10.46,3.4,O,H,1,6),(10.48,3.42,O,H,1,5),(10.5,3.44,O,H,2,4),(10.6,3.36,O,H,1,2),(10.74,3.34,O,H,1,1),
(11.28,4.08,O,H,1,5),(11.3,4.05,O,A,1,5),(11.32,4.02,O,A,1,4),(11.34,4.0,O,A,1,4),(11.8,3.44,O,A,3,9),
]

ALL_ROWS = LEFT_BLOB + DRIBBLE_FAN + DRIBBLE_ARC + MAIN_TOP + MAIN_MID + MAIN_LOW + RIGHT_BLOB + LOWER_BLOB + SMALL_GROUPS


def px(v):
    return v / 1060


def py(v):
    return 1 - v / 909


PANELS = [
    dict(n="", l=53.5, r=427, t=2.5, b=351, cap="(a) Embeddings by action type", cx=255, cy=417),
    dict(n="2", l=607.5, r=962, t=2.5, b=351, cap="(b) Embeddings by team", cx=810, cy=417),
    dict(n="3", l=53.5, r=451, t=478.5, b=826, cap="(c) Embeddings by x-coordinate", cx=255.5, cy=891),
    dict(n="4", l=607.5, r=1005, t=478.5, b=826, cap="(d) Embeddings by y-coordinate", cx=810, cy=891),
]
FONT = "DejaVu Sans"
layout = dict(
    width=1060, height=909, margin=dict(l=0, r=0, t=0, b=0, pad=0, autoexpand=False),
    paper_bgcolor="white", plot_bgcolor="white", font=dict(family=FONT, size=11.2, color="#111111"),
    annotations=[], shapes=[], hovermode=False,
)
for p in PANELS:
    ax = dict(
        linecolor="#b3b3b3", linewidth=1.5, mirror=True, showline=True, zeroline=False,
        gridcolor="#ebebeb", gridwidth=1, ticks="", tickfont=dict(color="#4d4d4d", size=11.2, family=FONT),
    )
    layout["xaxis" + p["n"]] = dict(
        ax, domain=[px(p["l"]), px(p["r"])], range=[-1.28, 14.74], tickvals=X_TICKS,
        anchor="y" + p["n"],
        minor=dict(tickvals=[2.5, 7.5, 12.5], showgrid=True, gridcolor="#f3f3f3", gridwidth=1, ticks=""),
        title=dict(text="Dimension 1", standoff=1.5, font=dict(size=11.2, family=FONT, color="#111111")),
    )
    layout["yaxis" + p["n"]] = dict(
        ax, domain=[py(p["b"]), py(p["t"])], range=[1.31, 13.2], tickvals=Y_TICKS, ticktext=Y_TICK_TEXT,
        anchor="x" + p["n"],
        minor=dict(tickvals=[3.75, 6.25, 8.75, 11.25], showgrid=True, gridcolor="#f3f3f3", gridwidth=1, ticks=""),
        title=dict(text="Dimension 2", standoff=1, font=dict(size=11.2, family=FONT, color="#111111")),
    )
    layout["annotations"].append(dict(
        text=p["cap"], xref="paper", yref="paper", x=px(p["cx"]),
        y=py(p["cy"]), showarrow=False, xanchor="center", yanchor="middle",
        font=dict(family="Liberation Serif", size=23.9, color="black"),
    ))

traces = []
for act in ACTION_ORDER:
    rows = [r for r in ALL_ROWS if r[2] == act]
    faded = act == O
    traces.append(go.Scatter(
        x=[r[0] for r in rows], y=[r[1] for r in rows], mode="markers", xaxis="x", yaxis="y",
        marker=dict(color=ACTION_COLORS[act], size=3.2, opacity=0.3 if faded else 1, line=dict(width=0)),
        name=act, showlegend=not faded, legend="legend", legendgroup=act,
    ))
traces.append(go.Scatter(
    x=[None], y=[None], mode="markers", xaxis="x", yaxis="y", name=O,
    marker=dict(color=ACTION_COLORS[O], size=3.2), legend="legend", legendgroup=O,
))
for team in TEAM_ORDER:
    rows = [r for r in ALL_ROWS if r[3] == team]
    traces.append(go.Scatter(
        x=[r[0] for r in rows], y=[r[1] for r in rows], mode="markers", xaxis="x2", yaxis="y2",
        marker=dict(color=TEAM_COLORS[team], size=2.8, line=dict(width=0)), name=team, legend="legend2", legendgroup=team,
    ))

for idx, (n, col, label, left) in enumerate([("3", 4, "<i>x</i> Bin", 466), ("4", 5, "<i>y</i> Bin", 1020)]):
    traces.append(go.Scatter(
        x=[r[0] for r in ALL_ROWS], y=[r[1] for r in ALL_ROWS], mode="markers", xaxis="x" + n, yaxis="y" + n, showlegend=False,
        marker=dict(
            size=2.9, color=[r[col] for r in ALL_ROWS], cmin=-0.15, cmax=9.3, line=dict(width=0),
            colorscale=[[0, "#0000ff"], [1, "#ff0000"]],
            colorbar=dict(
                x=px(left), xanchor="left", xpad=0, ypad=0, y=py(699), yanchor="bottom", len=97, lenmode="pixels",
                thickness=16, thicknessmode="pixels", outlinewidth=0, tickvals=BIN_TICKS, ticktext=BIN_TICK_TEXT,
                ticks="inside", ticklen=4, tickcolor="white", tickwidth=1, tickfont=dict(size=11.2, family=FONT, color="#111111"),
                title=dict(text=label, side="top", font=dict(size=11.2, family=FONT, color="#111111")),
            ),
        ),
    ))

layout["legend"] = dict(
    x=px(417), xanchor="left", y=py(183.5), yanchor="middle", font=dict(size=11.2, family=FONT, color="#111111"),
    itemsizing="trace", tracegroupgap=3, bgcolor="rgba(0,0,0,0)", borderwidth=0, itemwidth=30,
)
layout["legend2"] = dict(
    x=px(954), xanchor="left", y=py(183.5), yanchor="middle", font=dict(size=11.2, family=FONT, color="#111111"),
    itemsizing="trace", tracegroupgap=3, bgcolor="rgba(0,0,0,0)", borderwidth=0, itemwidth=30,
)

fig = go.Figure(data=traces, layout=layout)
fig.write_html(
    "out.html",
    config={"displayModeBar": False},
    post_script="document.body.style.margin='0';"
    "document.querySelectorAll('.legendpoints').forEach(function(g){g.setAttribute('transform','translate(14,0)');});",
)
